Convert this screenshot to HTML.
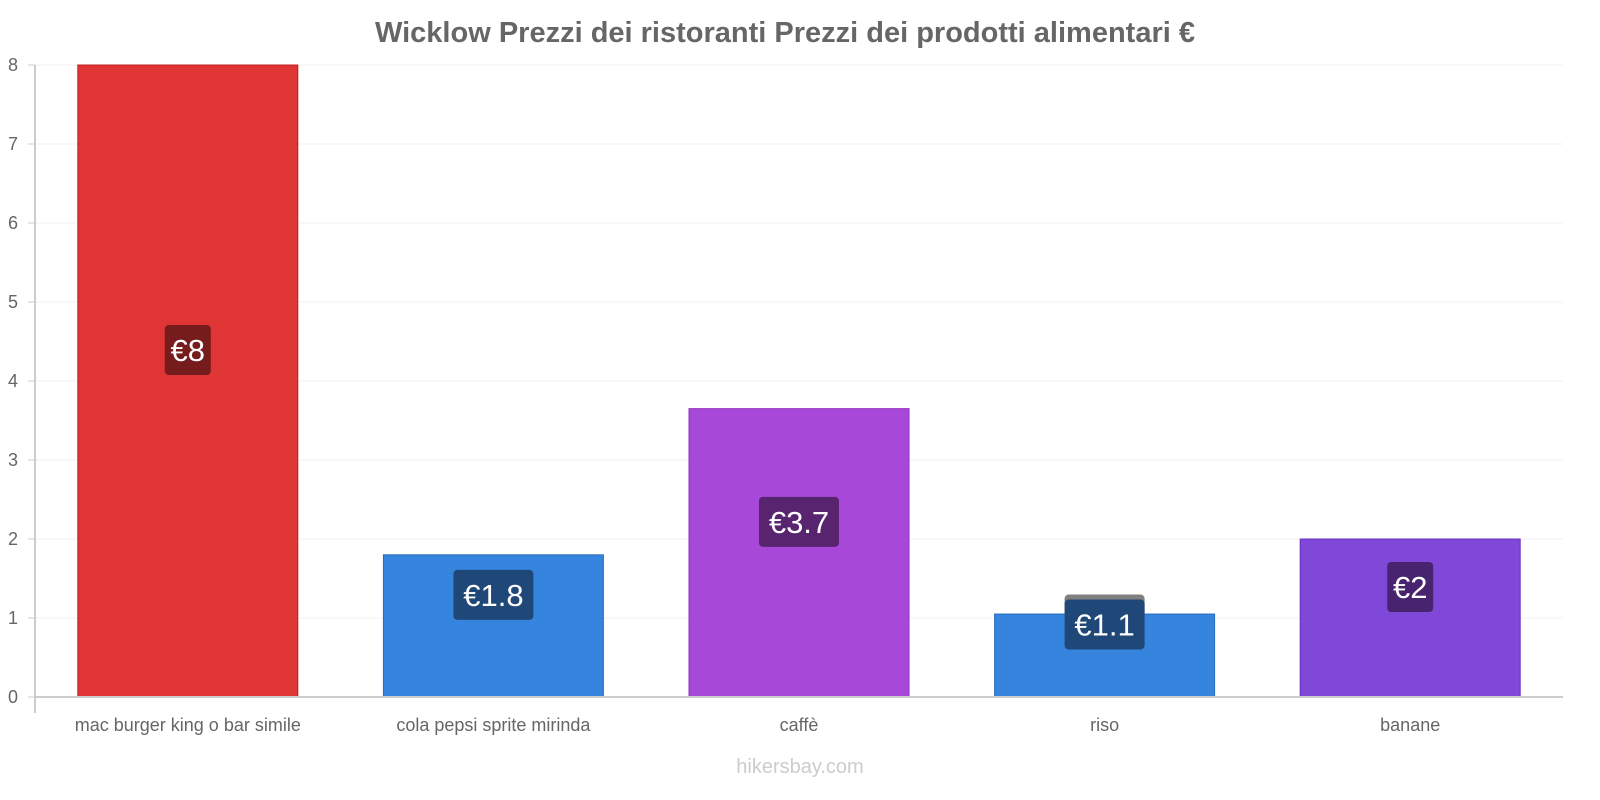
<!DOCTYPE html>
<html><head><meta charset="utf-8"><style>
html,body{margin:0;padding:0;background:#fff;}
svg{display:block;font-family:"Liberation Sans",sans-serif;}
</style></head><body>
<svg id="chart" width="1600" height="800" viewBox="0 0 1600 800">
<text x="785" y="42" text-anchor="middle" font-size="29" font-weight="bold" fill="#666">Wicklow Prezzi dei ristoranti Prezzi dei prodotti alimentari €</text>
<g id="grid"></g><g id="bars"></g><g id="axes"></g><g id="labels"></g>
<text x="800" y="773" text-anchor="middle" font-size="20" fill="#ccc">hikersbay.com</text>
</svg>
<script>
const categories = ["mac burger king o bar simile","cola pepsi sprite mirinda","caffè","riso","banane"];
const values = [8, 1.8, 3.65, 1.05, 2];
const valueLabels = ["€8","€1.8","€3.7","€1.1","€2"];
const yTicks = [0,1,2,3,4,5,6,7,8];
const fills = ["#e03535","#3584de","#a848d8","#3584de","#8048d8"];
const strokes = ["#c02020","#2a6cbd","#9030c0","#2a6cbd","#6a30c0"];
const labelBg = ["#761c1c","#1f4878","#58246f","#1f4878","#48246f"];
const NS="http://www.w3.org/2000/svg";
const x0=35,x1=1563,yBase=697,yTop=65,yMax=8;
const y=v=>yBase-(yBase-yTop)*v/yMax;
const band=(x1-x0)/categories.length;
const xc=i=>x0+band*(i+0.5);
function mk(tag,attrs,parent){const e=document.createElementNS(NS,tag);for(const k in attrs)e.setAttribute(k,attrs[k]);document.getElementById(parent).appendChild(e);return e;}
yTicks.forEach(t=>{
  const g=mk("line",{x1:x0,x2:x1,y1:y(t),y2:y(t),stroke:"#f2f2f2","stroke-width":1},"grid");
  
  
  const tx=mk("text",{x:18,y:y(t)+6,"text-anchor":"end","font-size":18,fill:"#666"},"axes");
  tx.textContent=t;
  
  
  const tk=mk("line",{x1:28,x2:35,y1:y(t),y2:y(t),stroke:"#ccc"},"axes");
  
  
});
const ya=mk("line",{x1:x0,x2:x0,y1:yTop,y2:713,stroke:"#ccc","stroke-width":2},"axes");


const xa=mk("line",{x1:x0,x2:x1,y1:yBase,y2:yBase,stroke:"#ccc","stroke-width":2},"axes");


const bw=220;
categories.forEach((c,i)=>{
  const top=y(values[i]);
  const r=mk("rect",{x:xc(i)-bw/2,y:top,width:bw,height:yBase-top,fill:fills[i],stroke:strokes[i],"stroke-width":1},"bars");
  
  
  const xl=mk("text",{x:xc(i),y:731,"text-anchor":"middle","font-size":18,fill:"#666"},"axes");
  xl.textContent=c;
  
  
  const cy=(top+yBase)/2-31;
  const w=valueLabels[i].length*17+12;
  if(i===3){
    const sh=mk("rect",{x:xc(i)-w/2,y:cy-30,width:w,height:30,rx:4,fill:"#808080"},"labels");
    
    
  }
  const b=mk("rect",{x:xc(i)-w/2,y:cy-25,width:w,height:50,rx:4,fill:labelBg[i]},"labels");
  
  
  const t=mk("text",{x:xc(i),y:cy+11,"text-anchor":"middle","font-size":31,fill:"#fff"},"labels");
  t.textContent=valueLabels[i];
  
  
});
</script>
</body></html>
